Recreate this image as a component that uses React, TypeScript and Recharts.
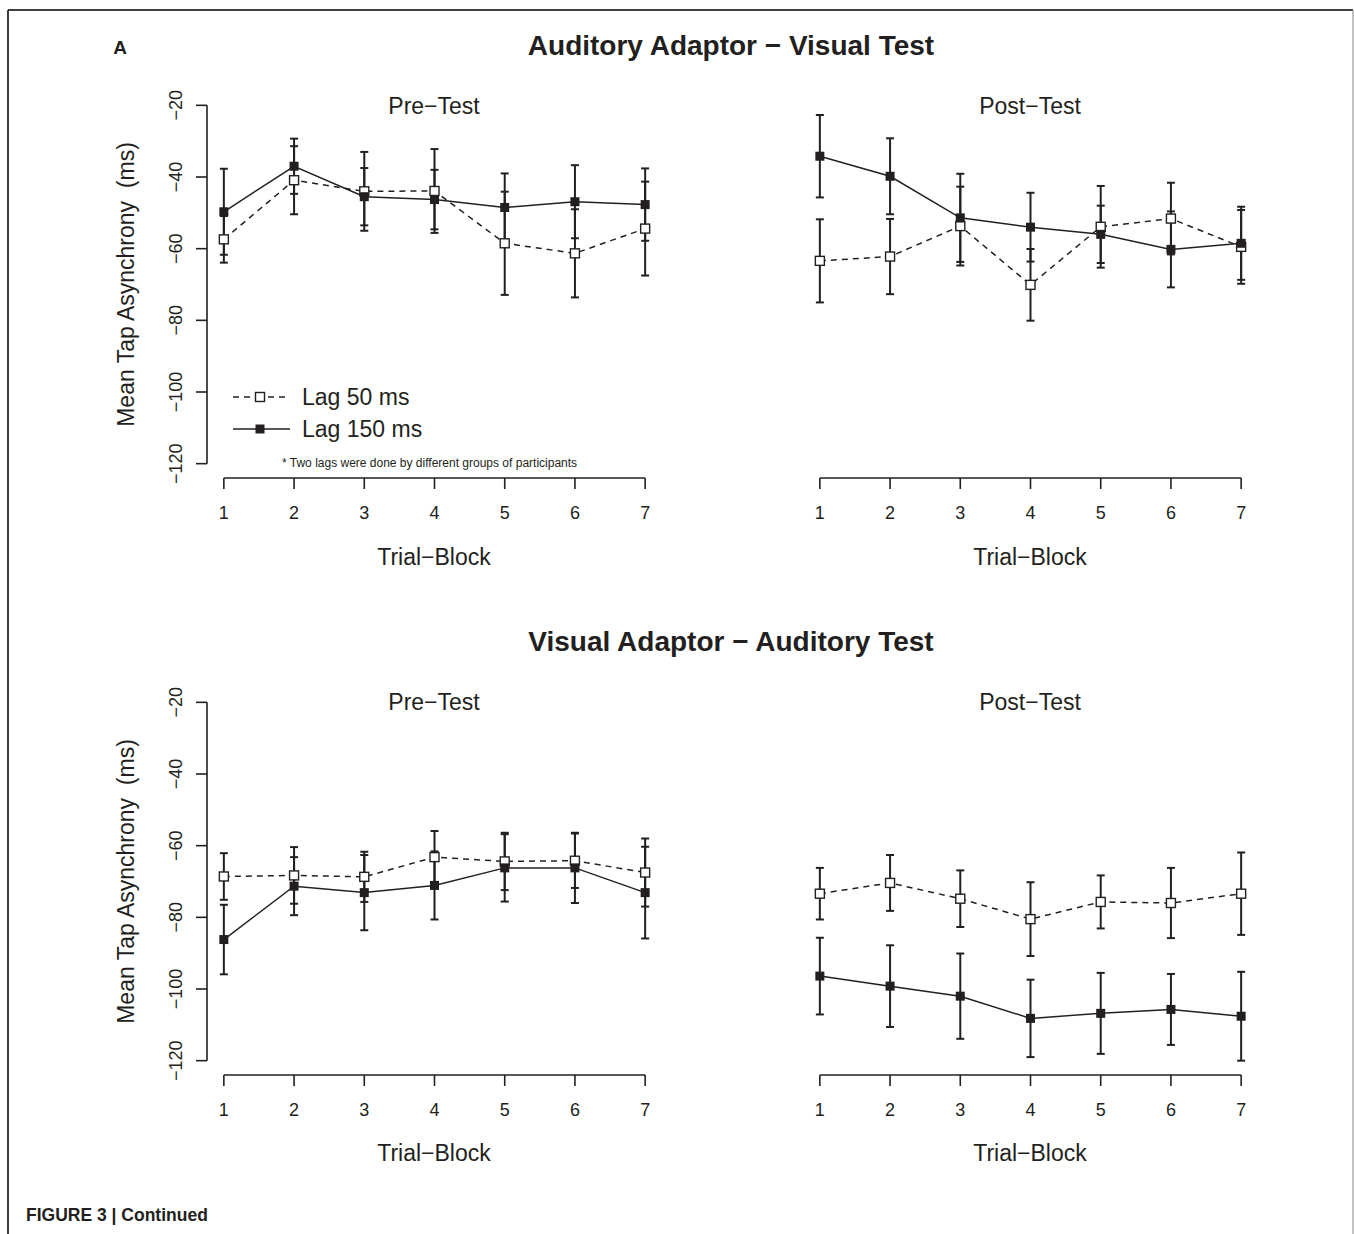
import React from 'react';
import { LineChart, Line, XAxis, YAxis, ErrorBar, ReferenceLine } from 'recharts';

const trialBlocks = [1, 2, 3, 4, 5, 6, 7];
const yTicks = [-20, -40, -60, -80, -100, -120];

// Auditory Adaptor - Visual Test
const audPre50 = [-57.4, -40.9, -44.0, -43.9, -58.5, -61.3, -54.4];
const audPre50Err = [6.5, 9.5, 11.0, 11.7, 14.4, 12.3, 13.1];
const audPre150 = [-49.7, -37.0, -45.5, -46.3, -48.5, -46.9, -47.7];
const audPre150Err = [12.0, 7.7, 8.0, 8.3, 9.5, 10.2, 10.1];

const audPost50 = [-63.4, -62.2, -53.7, -70.1, -53.9, -51.6, -59.5];
const audPost50Err = [11.6, 10.5, 11.0, 10.0, 11.4, 10.0, 10.3];
const audPost150 = [-34.2, -39.8, -51.4, -54.0, -56.0, -60.2, -58.5];
const audPost150Err = [11.5, 10.6, 12.3, 9.6, 8.0, 10.6, 10.2];

// Visual Adaptor - Auditory Test
const visPre50 = [-68.6, -68.3, -68.7, -63.2, -64.4, -64.2, -67.5];
const visPre50Err = [6.5, 7.9, 7.0, 7.3, 8.0, 7.6, 9.5];
const visPre150 = [-86.2, -71.3, -73.1, -71.1, -66.2, -66.2, -73.1];
const visPre150Err = [9.7, 8.1, 10.5, 9.5, 9.4, 9.8, 12.8];

const visPost50 = [-73.4, -70.4, -74.8, -80.5, -75.7, -76.0, -73.4];
const visPost50Err = [7.2, 7.8, 7.9, 10.3, 7.4, 9.8, 11.5];
const visPost150 = [-96.4, -99.2, -102.0, -108.2, -106.8, -105.7, -107.6];
const visPost150Err = [10.7, 11.4, 11.9, 10.8, 11.3, 9.9, 12.4];

const INK = '#231f20';
const FONT = '"Liberation Sans", Arial, Helvetica, sans-serif';

const buildRows = (lag50: number[], err50: number[], lag150: number[], err150: number[]) =>
  trialBlocks.map((block, i) => ({
    block,
    lag50: lag50[i],
    err50: err50[i],
    lag150: lag150[i],
    err150: err150[i],
  }));

const openSquare = (props: any) => {
  const { cx, cy, index } = props;
  if (cx == null || cy == null) return <g key={`o-${index}`} />;
  return (
    <rect key={`o-${index}`} x={cx - 4.5} y={cy - 4.5} width={9} height={9}
      fill="#fff" stroke={INK} strokeWidth={1.4} />
  );
};

const filledSquare = (props: any) => {
  const { cx, cy, index } = props;
  if (cx == null || cy == null) return <g key={`f-${index}`} />;
  return <rect key={`f-${index}`} x={cx - 4.5} y={cy - 4.5} width={9} height={9} fill={INK} />;
};

const renderXTick = (props: any) => {
  const { x, y, payload } = props;
  return (
    <text x={x} y={y + 28} textAnchor="middle" fontSize={18} fontFamily={FONT} fill={INK}>
      {payload.value}
    </text>
  );
};

const renderYTick = (props: any) => {
  const { x, y, payload } = props;
  const px = x - 12;
  return (
    <text x={px} y={y} transform={`rotate(-90 ${px} ${y})`} textAnchor="middle"
      fontSize={18} fontFamily={FONT} fill={INK}>
      {String(payload.value).replace('-', '\u2212')}
    </text>
  );
};

interface PanelProps {
  rows: ReturnType<typeof buildRows>;
  left: number;
  top: number;
  right: number;
  bottom: number;
  showY: boolean;
}

const Panel = ({ rows, left, top, right, bottom, showY }: PanelProps) => {
  const yw = showY ? 45 : 0;
  const pad = 10;
  const xh = 45;
  const w = right - left + yw + 2 * pad;
  const h = bottom - top + xh + 2 * pad;
  return (
    <div style={{ position: 'absolute', left: left - yw - pad, top: top - pad }}>
      <LineChart width={w} height={h} data={rows} margin={{ top: pad, right: pad, bottom: pad, left: pad }}>
        <XAxis
          dataKey="block"
          type="number"
          domain={[0.76, 7.24]}
          ticks={trialBlocks}
          interval={0}
          allowDataOverflow
          axisLine={false}
          tickSize={11}
          tickLine={{ stroke: INK, strokeWidth: 1.6 }}
          tick={renderXTick}
          height={xh}
        />
        <YAxis
          type="number"
          domain={[-124, -16]}
          ticks={yTicks}
          interval={0}
          allowDataOverflow
          hide={!showY}
          axisLine={false}
          tickSize={11}
          tickLine={{ stroke: INK, strokeWidth: 1.6 }}
          tick={renderYTick}
          width={yw}
        />
        <ReferenceLine
          segment={[{ x: 1, y: -124 }, { x: 7, y: -124 }]}
          stroke={INK}
          strokeWidth={1.6}
          ifOverflow="visible"
        />
        {showY && (
          <ReferenceLine
            segment={[{ x: 0.76, y: -20 }, { x: 0.76, y: -120 }]}
            stroke={INK}
            strokeWidth={1.6}
            ifOverflow="visible"
          />
        )}
        <Line
          dataKey="lag50"
          stroke={INK}
          strokeWidth={1.5}
          strokeDasharray="6 5"
          dot={openSquare}
          activeDot={false}
          isAnimationActive={false}
        >
          <ErrorBar dataKey="err50" width={4} strokeWidth={2} stroke={INK} direction="y" />
        </Line>
        <Line
          dataKey="lag150"
          stroke={INK}
          strokeWidth={1.5}
          dot={filledSquare}
          activeDot={false}
          isAnimationActive={false}
        >
          <ErrorBar dataKey="err150" width={4} strokeWidth={2} stroke={INK} direction="y" />
        </Line>
      </LineChart>
    </div>
  );
};

const App = () => {
  const txt = { fontFamily: FONT, fill: INK } as const;
  return (
    <div style={{ position: 'absolute', left: 0, top: 0, width: 1354, height: 1234, background: '#fff' }}>
      <Panel rows={buildRows(audPre50, audPre50Err, audPre150, audPre150Err)} left={207} top={91} right={662} bottom={478} showY />
      <Panel rows={buildRows(audPost50, audPost50Err, audPost150, audPost150Err)} left={803} top={91} right={1258} bottom={478} showY={false} />
      <Panel rows={buildRows(visPre50, visPre50Err, visPre150, visPre150Err)} left={207} top={688} right={662} bottom={1075} showY />
      <Panel rows={buildRows(visPost50, visPost50Err, visPost150, visPost150Err)} left={803} top={688} right={1258} bottom={1075} showY={false} />

      <svg width={1354} height={1234} style={{ position: 'absolute', left: 0, top: 0, pointerEvents: 'none' }}>
        {/* frame */}
        <line x1={8} y1={10} x2={1353} y2={10} stroke="#000" strokeWidth={1.5} />
        <line x1={8} y1={10} x2={8} y2={1234} stroke="#000" strokeWidth={1.5} />
        <line x1={1353} y1={10} x2={1353} y2={1234} stroke="#999" strokeWidth={1.2} />

        <text x={120} y={54} textAnchor="middle" fontSize={19} fontWeight="bold" {...txt}>A</text>
        <text x={731} y={55} textAnchor="middle" fontSize={28} fontWeight="bold" {...txt}>Auditory Adaptor − Visual Test</text>
        <text x={731} y={651} textAnchor="middle" fontSize={28} fontWeight="bold" {...txt}>Visual Adaptor − Auditory Test</text>

        <text x={434} y={114} textAnchor="middle" fontSize={23} {...txt}>Pre−Test</text>
        <text x={1030} y={114} textAnchor="middle" fontSize={23} {...txt}>Post−Test</text>
        <text x={434} y={710} textAnchor="middle" fontSize={23} {...txt}>Pre−Test</text>
        <text x={1030} y={710} textAnchor="middle" fontSize={23} {...txt}>Post−Test</text>

        <text x={434} y={565} textAnchor="middle" fontSize={23} {...txt}>Trial−Block</text>
        <text x={1030} y={565} textAnchor="middle" fontSize={23} {...txt}>Trial−Block</text>
        <text x={434} y={1161} textAnchor="middle" fontSize={23} {...txt}>Trial−Block</text>
        <text x={1030} y={1161} textAnchor="middle" fontSize={23} {...txt}>Trial−Block</text>

        <text x={134} y={284.5} transform="rotate(-90 134 284.5)" textAnchor="middle" fontSize={23} {...txt} xmlSpace="preserve">Mean Tap Asynchrony  (ms)</text>
        <text x={134} y={881.5} transform="rotate(-90 134 881.5)" textAnchor="middle" fontSize={23} {...txt} xmlSpace="preserve">Mean Tap Asynchrony  (ms)</text>

        {/* legend */}
        <line x1={233} y1={397} x2={252} y2={397} stroke={INK} strokeWidth={1.5} strokeDasharray="6 5" />
        <line x1={268} y1={397} x2={290} y2={397} stroke={INK} strokeWidth={1.5} strokeDasharray="6 5" />
        <rect x={255.5} y={392.5} width={9} height={9} fill="#fff" stroke={INK} strokeWidth={1.4} />
        <text x={302} y={405} fontSize={23} {...txt}>Lag 50 ms</text>
        <line x1={233} y1={429} x2={290} y2={429} stroke={INK} strokeWidth={1.5} />
        <rect x={255.5} y={424.5} width={9} height={9} fill={INK} />
        <text x={302} y={437} fontSize={23} {...txt}>Lag 150 ms</text>
        <text x={282} y={467} fontSize={12} {...txt}>* Two lags were done by different groups of participants</text>

        <text x={26} y={1221} fontSize={17.5} fontWeight="bold" {...txt}>FIGURE 3 | Continued</text>
      </svg>
    </div>
  );
};

export default App;
